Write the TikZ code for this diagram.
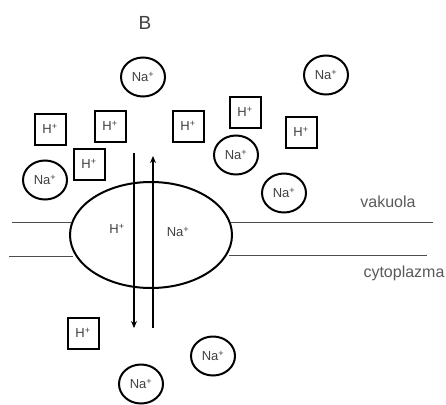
\documentclass[tikz,border=0pt]{standalone}
\usepackage{fontspec}
\setmainfont{Liberation Sans}
\usepackage{tikz}
\usetikzlibrary{arrows.meta}
\usetikzlibrary{shapes.geometric}

\tikzset{
  ion/.style={inner sep=0pt, text=black!75, font=\fontsize{13}{14}\selectfont},
  na/.style={ion, ellipse, draw, line width=2pt, minimum width=44pt, minimum height=39pt},
  hbox/.style={ion, rectangle, draw, line width=2pt, minimum size=31pt},
  side/.style={text=black!65, font=\fontsize{16}{17}\selectfont},
  membrane/.style={draw=black!70, line width=0.9pt},
  flow/.style={line width=2pt, -{Stealth[length=7pt, width=6pt]}}
}

\begin{document}
\begin{tikzpicture}[x=1pt, y=-1pt]
      \useasboundingbox (0,0) rectangle (446,404);
      \node[font=\fontsize{19}{20}\selectfont, text=black!75] (title) at (145, 23) {B};
      % membrane with the antiporter
      \coordinate (ml1) at (12, 222);
      \coordinate (ml2) at (9, 256);
      \coordinate (mr1) at (433, 222);
      \coordinate (mr2) at (427, 255);
      \coordinate (el1) at (71, 222);
      \coordinate (el2) at (73, 256);
      \coordinate (er1) at (231, 222);
      \coordinate (er2) at (229, 255);
      \draw[membrane] (ml1) -- (el1);
      \draw[membrane] (ml2) -- (el2);
      \draw[membrane] (er1) -- (mr1);
      \draw[membrane] (er2) -- (mr2);
      \node[ellipse, draw, line width=2pt, minimum width=162pt, minimum height=106pt] (pump) at (151, 235) {};
      \node[ion] (hin) at (117, 229) {H\textsuperscript{+}};
      \node[ion] (nain) at (178, 232) {Na\textsuperscript{+}};
      \node[side] (vak) at (388, 202) {vakuola};
      \node[side] (cyt) at (404, 273) {cytoplazma};
      % vacuole side
      \node[na] (na1) at (143, 77) {Na\textsuperscript{+}};
      \node[na] (na2) at (326, 75) {Na\textsuperscript{+}};
      \node[na] (na3) at (45, 180) {Na\textsuperscript{+}};
      \node[na] (na4) at (236, 155) {Na\textsuperscript{+}};
      \node[na] (na5) at (284, 193) {Na\textsuperscript{+}};
      \node[hbox] (h1) at (50, 129) {H\textsuperscript{+}};
      \node[hbox] (h2) at (110, 126) {H\textsuperscript{+}};
      \node[hbox] (h3) at (188, 126) {H\textsuperscript{+}};
      \node[hbox] (h4) at (245, 112) {H\textsuperscript{+}};
      \node[hbox] (h5) at (301, 132) {H\textsuperscript{+}};
      \node[hbox] (h6) at (89, 164) {H\textsuperscript{+}};
      % cytoplasm side
      \node[hbox] (h7) at (83, 333) {H\textsuperscript{+}};
      \node[na] (na6) at (213, 356) {Na\textsuperscript{+}};
      \node[na] (na7) at (141, 384) {Na\textsuperscript{+}};
      % transport
      \coordinate (htop) at (134, 153);
      \coordinate (hbot) at (134, 328);
      \coordinate (nabot) at (153, 328);
      \coordinate (natop) at (153, 156);
      \draw[flow] (htop) -- (hbot);
      \draw[flow] (nabot) -- (natop);
    \end{tikzpicture}
\end{document}
